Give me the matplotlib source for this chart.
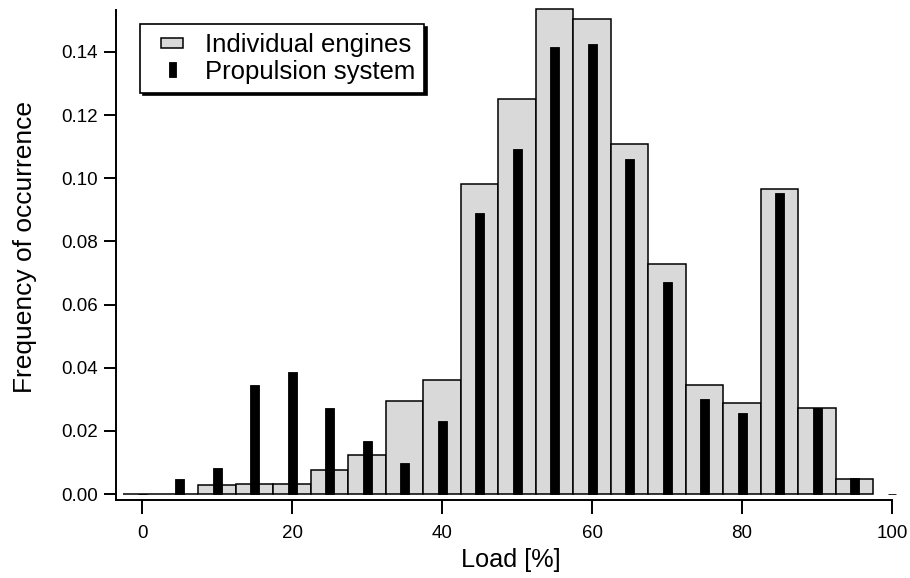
import matplotlib
matplotlib.use("Agg")
import matplotlib.pyplot as plt
import matplotlib.patches as mpatches
from matplotlib.legend_handler import HandlerPatch

plt.rcParams['font.family'] = ['Liberation Sans', 'DejaVu Sans']

# bin centres [% load]
load = [0, 5, 10, 15, 20, 25, 30, 35, 40, 45, 50, 55, 60, 65, 70, 75, 80, 85, 90, 95]
engines = [0.0, 0.0, 0.0027, 0.0032, 0.0033, 0.0075, 0.0125, 0.0295, 0.0362, 0.0982,
           0.1252, 0.1536, 0.1506, 0.1108, 0.0728, 0.0345, 0.0288, 0.0966, 0.0273, 0.0047]

load_sys = [0, 5, 10, 15, 20, 25, 30, 35, 40, 45, 50, 55, 60, 65, 70, 75, 80, 85, 90, 95, 100]
propulsion = [0.0, 0.0047, 0.0081, 0.0346, 0.0385, 0.0271, 0.0168, 0.0098, 0.0230, 0.0889,
              0.1094, 0.1416, 0.1426, 0.1062, 0.0672, 0.0301, 0.0256, 0.0953, 0.0273, 0.0051, 0.0]

fig = plt.figure(figsize=(9.1, 5.78), dpi=100)
ax = fig.add_axes([116 / 910, 78 / 578, (892 - 116) / 910, (568 - 78) / 578])

ax.bar(load, engines, width=5, color='#d9d9d9', edgecolor='black', linewidth=1.1,
       clip_on=False, zorder=2)
ax.bar(load_sys, propulsion, width=1.2, color='black', edgecolor='black', linewidth=0.6,
       clip_on=False, zorder=3)

ax.set_xlim(-3.47, 100)
ax.set_ylim(-0.0019, 0.1533)
ax.set_xticks([0, 20, 40, 60, 80, 100])
ax.set_yticks([0, 0.02, 0.04, 0.06, 0.08, 0.10, 0.12, 0.14])
ax.set_yticklabels(['0.00', '0.02', '0.04', '0.06', '0.08', '0.10', '0.12', '0.14'])

for s in ['top', 'right']:
    ax.spines[s].set_visible(False)
for s in ['left', 'bottom']:
    ax.spines[s].set_linewidth(1.4)
ax.tick_params(axis='both', width=1.4, labelsize=13.5, direction='out')
ax.tick_params(axis='x', length=10, pad=8)
ax.tick_params(axis='y', length=9, pad=4)

ax.set_xlabel('Load [%]', fontsize=18.2)
ax.xaxis.set_label_coords(0.509, -0.097)
ax.set_ylabel('Frequency of occurrence', fontsize=19)
ax.yaxis.set_label_coords(-0.1018, 0.516)


# legend symbols: wide grey box and a narrow, taller black bar
def grey_box(legend, orig_handle, xdescent, ydescent, width, height, fontsize):
    w, h = 0.86 * fontsize, 0.36 * fontsize
    cx = -xdescent + 0.55 * width
    cy = -ydescent + height / 2
    return mpatches.Rectangle((cx - w / 2, cy - h / 2), w, h)


def black_bar(legend, orig_handle, xdescent, ydescent, width, height, fontsize):
    w, h = 0.27 * fontsize, 0.58 * fontsize
    cx = -xdescent + 0.55 * width
    cy = -ydescent + height / 2
    return mpatches.Rectangle((cx - w / 2, cy - h / 2), w, h)


h_eng = mpatches.Patch(facecolor='#d9d9d9', edgecolor='black', linewidth=1.1)
h_sys = mpatches.Patch(facecolor='black', edgecolor='black', linewidth=0.6)
leg = ax.legend([h_eng, h_sys], ['Individual engines', 'Propulsion system'],
                loc='upper left', bbox_to_anchor=(24 / 776, 476 / 490),
                fontsize=18.5, fancybox=False, framealpha=1, edgecolor='black',
                borderpad=0.35, labelspacing=0.1, handlelength=1.65, handleheight=0.7,
                handletextpad=0.52, borderaxespad=0,
                shadow={'facecolor': 'black', 'edgecolor': 'black', 'alpha': 1},
                handler_map={h_eng: HandlerPatch(patch_func=grey_box),
                             h_sys: HandlerPatch(patch_func=black_bar)})
leg.get_frame().set_linewidth(1.2)

fig.savefig('out.png', dpi=100)
